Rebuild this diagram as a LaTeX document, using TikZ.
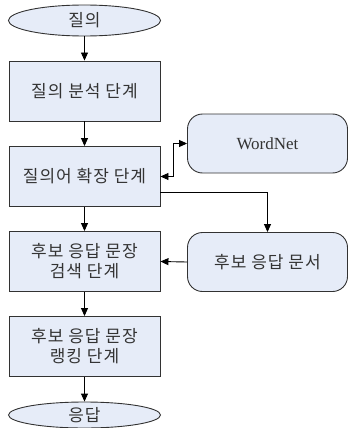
\documentclass[tikz,border=0pt]{standalone}
\usepackage{fontspec}
\setmainfont{Liberation Serif}
\newfontfamily\kr[LetterSpace=6]{Noto Sans CJK KR}
\usetikzlibrary{shapes.geometric,arrows.meta}
\definecolor{boxfill}{RGB}{230,236,248}
\definecolor{edge}{RGB}{50,50,50}
\tikzset{
  base/.style={draw=edge,fill=boxfill,line width=0.9pt,font=\kr\fontsize{17}{20}\selectfont,text=black!80,align=center,inner sep=0pt},
  stepbox/.style={base,rectangle,minimum width=151pt,minimum height=60pt},
  term/.style={base,ellipse,minimum width=152pt,minimum height=31pt},
  res/.style={base,rectangle,rounded corners=15pt,minimum width=160pt,minimum height=59pt},
  conn/.style={draw=black,line width=0.9pt,-{Triangle[length=8pt,width=7pt]}},
}
\begin{document}
\begin{tikzpicture}[x=1pt,y=-1pt]
\useasboundingbox (0,0) rectangle (349,428);
\node[term] (q) at (84.5,20.5) {질의};
\node[stepbox] (b1) at (84.5,91) {질의 분석 단계};
\node[stepbox] (b2) at (84.5,176.5) {질의어 확장 단계};
\node[stepbox] (b3) at (84.5,261.5) {후보 응답 문장\\검색 단계};
\node[stepbox] (b4) at (84.5,346.5) {후보 응답 문장\\랭킹 단계};
\node[term,minimum height=26pt] (a) at (84.5,415) {응답};
\node[res,font=\fontsize{17}{20}\selectfont] (wn) at (267.5,143.5) {WordNet};
\node[res] (cd) at (267.5,262) {후보 응답 문서};
\draw[conn] (q) -- (b1);
\draw[conn] (b1) -- (b2);
\draw[conn] (b2) -- (b3);
\draw[conn] (b3) -- (b4);
\draw[conn] (b4) -- (a);
\draw[conn,{Triangle[length=8pt,width=7pt]}-{Triangle[length=8pt,width=7pt]}] (b2.east) -- ++(13,0) |- (wn.west);
\draw[conn] ([yshift=-15.5pt]b2.east) -| (cd.north);
\draw[conn] (cd.west) -- (b3.east);
\end{tikzpicture}
\end{document}
